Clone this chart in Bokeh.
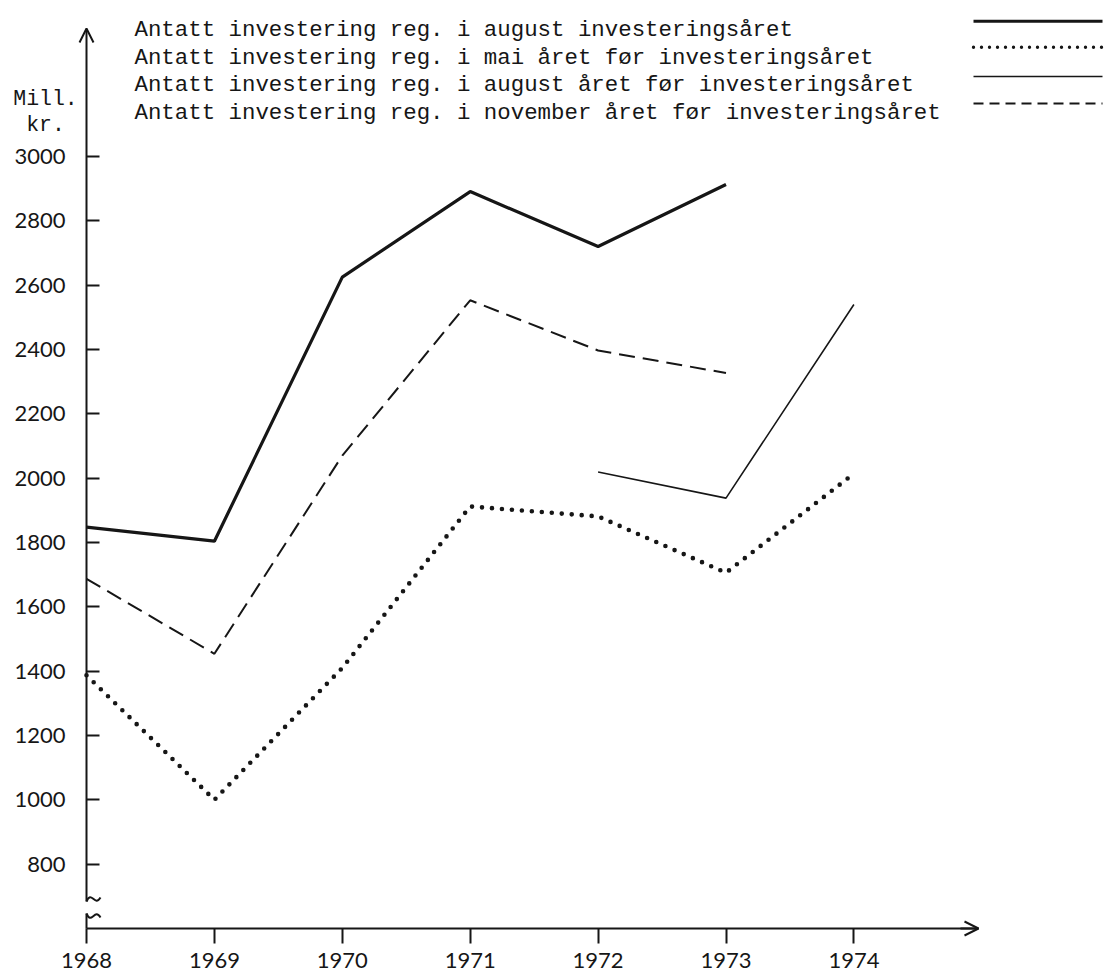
import numpy as np
from bokeh.plotting import figure
from bokeh.models import Range1d, FixedTicker, Arrow, OpenHead, Label, LinearAxis
from bokeh.embed import file_html
from bokeh.resources import INLINE

# ---- data (Mill. kr.) ----
years = [1968, 1969, 1970, 1971, 1972, 1973, 1974]
aug_inv = [1848, 1804, 2625, 2891, 2720, 2913, None]      # august investeringsåret
mai_for = [1387, 1000, 1410, 1912, 1881, 1706, 2014]      # mai året før
aug_for = [None, None, None, None, 2019, 1938, 2540]      # august året før
nov_for = [1687, 1454, 2070, 2553, 2397, 2327, None]      # november året før
y_ticks = [800, 1000, 1200, 1400, 1600, 1800, 2000, 2200, 2400, 2600, 2800, 3000]
legend_texts = [
    "Antatt investering reg. i august investeringsåret",
    "Antatt investering reg. i mai året før investeringsåret",
    "Antatt investering reg. i august året før investeringsåret",
    "Antatt investering reg. i november året før investeringsåret",
]

def arr(v):
    return np.array([np.nan if a is None else a for a in v], dtype=float)

# ---- layout helpers (canvas pixel -> data) ----
W, H = 1107, 973
X0_PX, PX_YEAR = 86.0, 127.9
Y1000_PX, PX_UNIT = 799.3, 0.32165

def xd(px):
    return 1968 + (px - X0_PX) / PX_YEAR

def yd(py):
    return 1000 + (Y1000_PX - py) / PX_UNIT

AXIS_Y = yd(928)
INK = "#161616"

p = figure(width=W, height=H, title=None, min_border=0,
           x_range=Range1d(xd(0), xd(W)), y_range=Range1d(yd(H), yd(0)),
           x_axis_location=None, y_axis_location=None,
           output_backend="svg", toolbar_location=None)
p.outline_line_color = None
p.xgrid.visible = False
p.ygrid.visible = False
p.background_fill_color = "white"
p.border_fill_color = "white"

# x axis (fixed at the bottom value)
xa = LinearAxis(fixed_location=AXIS_Y, bounds=(1968, xd(978)),
                ticker=FixedTicker(ticks=years))
xa.major_tick_out = 15
xa.major_tick_in = 0
xa.minor_tick_out = 0
xa.minor_tick_in = 0
xa.axis_line_width = 2
xa.axis_line_color = INK
xa.major_tick_line_width = 2
xa.major_tick_line_color = INK
xa.major_label_text_font = "Lato"
xa.major_label_text_font_size = "22px"
xa.major_label_text_color = INK
xa.major_label_standoff = 9
p.add_layout(xa, "below")

# y axis (fixed at 1968)
ya = LinearAxis(fixed_location=1968, ticker=FixedTicker(ticks=y_ticks))
ya.major_tick_in = 13
ya.major_tick_out = 0
ya.minor_tick_out = 0
ya.minor_tick_in = 0
ya.axis_line_color = None
ya.major_tick_line_width = 2
ya.major_tick_line_color = INK
ya.major_label_text_font = "Lato"
ya.major_label_text_font_size = "22px"
ya.major_label_text_color = INK
ya.major_label_standoff = 21
p.add_layout(ya, "left")

# y axis line with a break, arrow heads
brk_lo, brk_hi = yd(913), yd(901)
p.add_layout(Arrow(end=None, x_start=1968, y_start=AXIS_Y, x_end=1968, y_end=brk_lo,
                   line_width=2, line_color=INK))
p.add_layout(Arrow(end=OpenHead(size=14, line_width=2, line_color=INK),
                   x_start=1968, y_start=brk_hi, x_end=1968, y_end=yd(28),
                   line_width=2, line_color=INK))
p.add_layout(Arrow(end=OpenHead(size=14, line_width=2, line_color=INK),
                   x_start=xd(960), y_start=AXIS_Y, x_end=xd(978), y_end=AXIS_Y,
                   line_width=2, line_color=INK))
# break marks
for yb, d in ((brk_hi, 1), (brk_lo, -1)):
    p.bezier(x0=[1968], y0=[yb], x1=[xd(X0_PX + 14)], y1=[yb + d * 4 / PX_UNIT],
             cx0=[xd(X0_PX + 5)], cy0=[yb + d * 12 / PX_UNIT],
             cx1=[xd(X0_PX + 8)], cy1=[yb - d * 6 / PX_UNIT],
             line_width=2, line_color=INK)

# data lines
p.line(years, arr(aug_inv), line_width=3.2, line_color=INK)
p.line(years, arr(mai_for), line_width=4.6, line_color=INK, line_dash="0 10", line_cap="round")
p.line(years, arr(aug_for), line_width=1.6, line_color=INK)
p.line(years, arr(nov_for), line_width=2, line_color=INK, line_dash="16 8")

# legend (text + samples)
baselines = [29.5, 57, 84.5, 112]
sample_y = [20.7, 46.7, 76, 103]
styles = [dict(line_width=3, line_dash="solid"),
          dict(line_width=3.4, line_dash="0 8", line_cap="round"),
          dict(line_width=1.6, line_dash="solid"),
          dict(line_width=1.8, line_dash="10 6")]
for t, b, sy, st in zip(legend_texts, baselines, sample_y, styles):
    p.add_layout(Label(x=xd(134), y=yd(b), text=t, text_font="Liberation Mono",
                       text_font_size="22.4px", text_color=INK,
                       text_baseline="alphabetic", text_align="left"))
    p.add_layout(Arrow(end=None, x_start=xd(973), y_start=yd(sy), x_end=xd(1102),
                       y_end=yd(sy), line_color=INK, **st))

p.add_layout(Label(x=xd(45), y=yd(98.5), text="Mill.", text_font="Liberation Mono",
                   text_font_size="21.5px", text_color=INK, text_align="center",
                   text_baseline="alphabetic"))
p.add_layout(Label(x=xd(45), y=yd(124), text="kr.", text_font="Liberation Mono",
                   text_font_size="21.5px", text_color=INK, text_align="center",
                   text_baseline="alphabetic"))

open("out.html", "w").write(file_html(p, INLINE))
